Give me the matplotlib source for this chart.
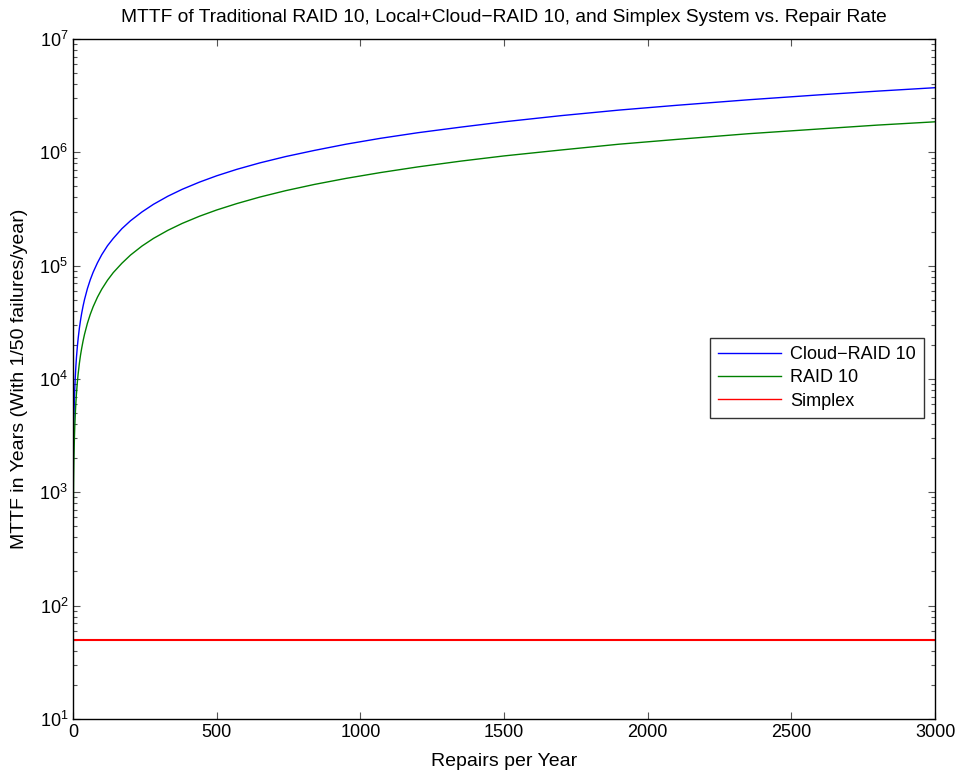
import matplotlib
matplotlib.use("Agg")
import matplotlib.pyplot as plt
from matplotlib.ticker import LogLocator, NullFormatter

plt.rcParams["font.family"] = ["Liberation Sans", "DejaVu Sans"]
plt.rcParams["mathtext.fontset"] = "custom"
plt.rcParams["mathtext.rm"] = "Liberation Sans"
plt.rcParams["mathtext.it"] = "Liberation Sans:italic"

# values (repairs per year -> MTTF in years)
repairs = [1, 2, 3, 4, 5, 6, 8, 10, 12, 15, 18, 22, 26, 30, 35, 40, 50, 60,
           70, 85, 100, 120, 140, 170, 200, 240, 280, 330, 380, 440, 500, 570,
           650, 740, 840, 950, 1070, 1200, 1350, 1500, 1700, 1900, 2100, 2350,
           2600, 2800, 3000]
cloud_raid10 = [1.94e3, 3.18e3, 4.42e3, 5.66e3, 6.9e3, 8.14e3, 1.06e4, 1.31e4,
                1.56e4, 1.93e4, 2.3e4, 2.8e4, 3.29e4, 3.79e4, 4.41e4, 5.03e4,
                6.27e4, 7.51e4, 8.75e4, 1.06e5, 1.25e5, 1.5e5, 1.74e5, 2.12e5,
                2.49e5, 2.98e5, 3.48e5, 4.1e5, 4.72e5, 5.46e5, 6.21e5, 7.08e5,
                8.07e5, 9.18e5, 1.04e6, 1.18e6, 1.33e6, 1.49e6, 1.67e6, 1.86e6,
                2.11e6, 2.36e6, 2.6e6, 2.91e6, 3.22e6, 3.47e6, 3.72e6]
raid10 = [660, 1.28e3, 1.9e3, 2.52e3, 3.14e3, 3.76e3, 5.0e3, 6.24e3, 7.48e3,
          9.34e3, 1.12e4, 1.37e4, 1.62e4, 1.86e4, 2.17e4, 2.48e4, 3.1e4,
          3.72e4, 4.34e4, 5.27e4, 6.2e4, 7.44e4, 8.68e4, 1.05e5, 1.24e5,
          1.49e5, 1.74e5, 2.05e5, 2.36e5, 2.73e5, 3.1e5, 3.53e5, 4.03e5,
          4.59e5, 5.21e5, 5.89e5, 6.63e5, 7.44e5, 8.37e5, 9.3e5, 1.05e6,
          1.18e6, 1.3e6, 1.46e6, 1.61e6, 1.74e6, 1.86e6]
simplex_x = [0, 3000]
simplex = [50, 50]

fig = plt.figure(figsize=(9.61, 7.73), dpi=100)
ax = fig.add_axes([0.076, 0.07, 0.897, 0.8795])

ax.plot(repairs, cloud_raid10, color=(0, 0, 1), lw=1.0, label="Cloud\u2212RAID 10")
ax.plot(repairs, raid10, color=(0, 0.5, 0), lw=1.0, label="RAID 10")
ax.plot(simplex_x, simplex, color=(1, 0, 0), lw=1.5, label="Simplex")

ax.set_yscale("log")
ax.set_xlim(0, 3000)
ax.set_ylim(10, 1e7)
ax.set_xticks(range(0, 3001, 500))
ax.yaxis.set_major_locator(LogLocator(base=10, numticks=10))
ax.yaxis.set_minor_locator(LogLocator(base=10, subs=range(2, 10), numticks=100))
ax.yaxis.set_minor_formatter(NullFormatter())

ax.tick_params(which="both", direction="in", top=True, right=True,
               color="#555555", labelsize=13)
ax.tick_params(which="major", length=5, width=0.8)
ax.tick_params(which="minor", length=3, width=0.8)
for s in ax.spines.values():
    s.set_linewidth(1.0)

ax.set_title("MTTF of Traditional RAID 10, Local+Cloud\u2212RAID 10, and Simplex System vs. Repair Rate",
             fontsize=13.8, pad=12)
ax.set_xlabel("Repairs per Year", fontsize=14, labelpad=9)
ax.set_ylabel("MTTF in Years (With 1/50 failures/year)", fontsize=14, labelpad=8)

leg = ax.legend(loc="lower left", bbox_to_anchor=(0.739, 0.443), fontsize=13,
                frameon=True, fancybox=False, borderaxespad=0,
                handlelength=3.5, handletextpad=0.5, labelspacing=0.35,
                borderpad=0.45)
leg.get_frame().set_edgecolor("black")
leg.get_frame().set_linewidth(1.0)
for line in leg.get_lines():
    line.set_linewidth(1.0)

fig.savefig("out.png", dpi=100)
